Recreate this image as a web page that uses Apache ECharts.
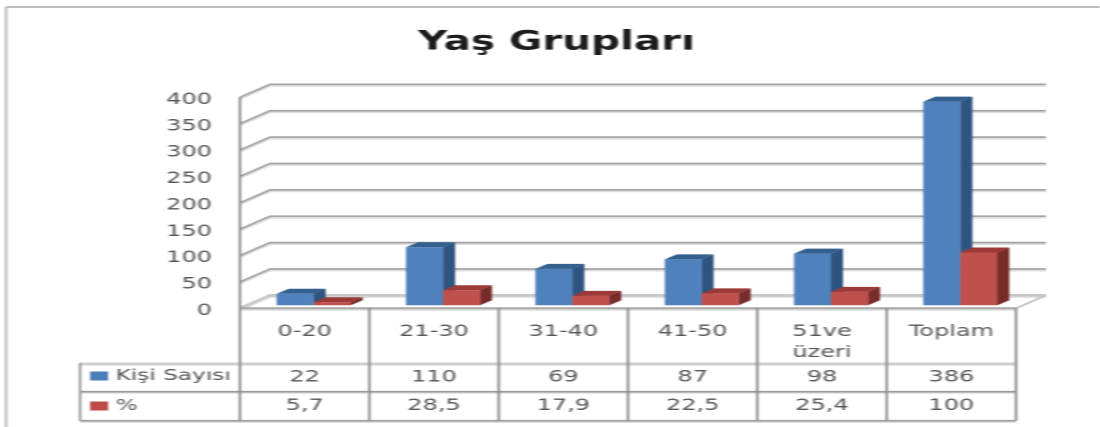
<!DOCTYPE html>
<html><head><meta charset="utf-8">
<style>
html,body{margin:0;padding:0;background:#fff;overflow:hidden}
#c{width:734px;height:427px;transform-origin:0 0;transform:scaleX(1.49864);filter:blur(0.65px)}
</style>
<script src="https://cdn.jsdelivr.net/npm/echarts@6/dist/echarts.min.js"></script>
</head><body><div id="c"></div>
<script>
const categories = ['0-20','21-30','31-40','41-50','51ve\nüzeri','Toplam'];
const kisiSayisi = [22,110,69,87,98,386];
const yuzde = [5.7,28.5,17.9,22.5,25.4,100];
const yTicks = [0,50,100,150,200,250,300,350,400];
const seriesNames = ['Kişi Sayısı','%'];

const SX = 1100/734;
const px = v => v/SX;
const font = 'DejaVu Sans';
const wallDX = px(30), wallDY = -13, wallRight = px(30);
const barW = px(37), barDX = px(12), barDY = -5, baseY = -3;
const startOff = [px(-28), px(9)];

function barItem(seriesIdx, front, top, side){
  return function(params, api){
    const p = api.coord([api.value(0), api.value(1)]);
    const b = api.coord([api.value(0), 0]);
    const xl = p[0] + startOff[seriesIdx], xr = xl + barW;
    const yt = p[1] + baseY, yb = b[1] + baseY;
    return {type:'group', children:[
      {type:'polygon', shape:{points:[[xr,yt],[xr+barDX,yt+barDY],[xr+barDX,yb+barDY],[xr,yb]]}, style:{fill:side}},
      {type:'polygon', shape:{points:[[xl,yt],[xl+barDX,yt+barDY],[xr+barDX,yt+barDY],[xr,yt]]}, style:{fill:top}},
      {type:'rect', shape:{x:xl,y:yt,width:barW,height:yb-yt}, style:{fill:front}}
    ]};
  };
}
function gridItem(params, api){
  const cs = params.coordSys;
  const y = api.coord([0, api.value(1)])[1];
  const x0 = cs.x, x1 = cs.x + cs.width + wallRight;
  const pts = [[x0,y],[x0+wallDX,y+wallDY],[x1,y+wallDY]];
  const zero = api.value(1) === 0;
  const kids = [{type:'polyline', shape:{points:pts.map(q=>[q[0],q[1]+1.5])}, style:{fill:null,stroke:'#dcdcdc',lineWidth:2}}];
  kids.push({type:'polyline', shape:{points:pts}, style:{fill:null,stroke:zero?'#c8c8c8':'#a2a2a2',lineWidth:zero?2.5:1.6}});
  if (zero) kids.push({type:'line', shape:{x1:x1-wallDX,y1:y,x2:x1,y2:y+wallDY}, style:{stroke:'#c0c0c0',lineWidth:1.6}});
  return {type:'group', children:kids};
}
const rowY = [363, 391.7, 420.7];
const tableLeft = px(80);
function tableItem(params, api){
  const cs = params.coordSys;
  const band = cs.width / categories.length;
  const kids = [];
  const hl = (x1,x2,y,c,w)=>kids.push({type:'line',shape:{x1,y1:y,x2,y2:y},style:{stroke:c,lineWidth:w}});
  const vl = (x,y1,y2,c,w)=>kids.push({type:'line',shape:{x1:x,y1,x2:x,y2},style:{stroke:c,lineWidth:w}});
  const fy = cs.y + cs.height;
  hl(cs.x, cs.x+cs.width, fy+1.5, '#e0e0e0', 2);
  hl(cs.x, cs.x+cs.width, fy, '#a8a8a8', 2);
  hl(tableLeft, cs.x+cs.width, rowY[0]+1, '#cfcfcf', 3);
  hl(tableLeft, cs.x+cs.width, rowY[1]+1, '#dddddd', 2);
  hl(tableLeft, cs.x+cs.width, rowY[1], '#9a9a9a', 1.6);
  hl(tableLeft, cs.x+cs.width, rowY[2]+1, '#d4d4d4', 2);
  hl(tableLeft, cs.x+cs.width, rowY[2], '#a0a0a0', 1.6);
  for (let i=0;i<=categories.length;i++) vl(cs.x+band*i, i===0?cs.y:fy, rowY[2], '#8e8e8e', 1.7);
  vl(tableLeft, rowY[0], rowY[2], '#9a9a9a', 1.7);
  return {type:'group', children:kids};
}
function cellItem(y){
  return function(params, api){
    const x = api.coord([api.value(0),0])[0];
    const v = api.value(1);
    return {type:'text', x, y, style:{text:String(v).replace('.',','), font:'16px "'+font+'"', fill:'#555', textAlign:'center', textVerticalAlign:'middle'}};
  };
}
const idx = a => a.map((v,i)=>[i,v]);

const chart = echarts.init(document.getElementById('c'), null, {renderer:'canvas', width:734, height:427, devicePixelRatio:2});
chart.setOption({
  animation:false,
  backgroundColor:'#fff',
  title:{text:'Yaş Grupları', left:px(549), top:24, textAlign:'center',
    textStyle:{fontFamily:font,fontSize:27,fontWeight:'bold',color:'#1c1c1c'}},
  legend:{orient:'vertical', left:px(90), top:368, padding:0, itemWidth:px(18), itemHeight:9, itemGap:14,
    data:seriesNames.map(n=>({name:n,icon:'rect'})), selectedMode:false,
    textStyle:{fontFamily:font,fontSize:15.5,color:'#555'}},
  grid:{left:px(240), right:734-px(1016), top:97.3, height:211},
  xAxis:{type:'category', data:categories, axisLine:{show:false}, axisTick:{show:false}, splitLine:{show:false},
    axisLabel:{fontFamily:font,fontSize:16,color:'#555',margin:13,lineHeight:21,verticalAlign:'top',interval:0}},
  yAxis:{type:'value', min:0, max:400, interval:50, axisLine:{show:false}, axisTick:{show:false}, splitLine:{show:false},
    axisLabel:{margin:px(28),formatter:'{a|{value}}',
      rich:{a:{fontFamily:font,fontSize:16,color:'#555',padding:[5,0,0,0]}}}},
  graphic:[
    {type:'line',silent:true,shape:{x1:px(6),y1:7,x2:734,y2:7},style:{stroke:'#a8a8a8',lineWidth:1.5}},
    {type:'line',silent:true,shape:{x1:px(6),y1:7,x2:px(6),y2:427},style:{stroke:'#b4b4b4',lineWidth:1.5}}
  ],
  series:[
    {type:'custom',name:'grid',silent:true,z:1,data:yTicks.map(t=>[0,t]),renderItem:gridItem,encode:{x:0,y:1}},
    {type:'custom',name:'table',silent:true,z:1,data:[[0,0]],renderItem:tableItem,encode:{x:0,y:1}},
    {type:'custom',name:seriesNames[0],z:3,itemStyle:{color:'#4A7EBB'},data:idx(kisiSayisi),renderItem:barItem(0,'#4F81BD','#34608F','#2E5480'),encode:{x:0,y:1}},
    {type:'custom',name:seriesNames[1],z:4,itemStyle:{color:'#BE4B48'},data:idx(yuzde),renderItem:barItem(1,'#C0504D','#9C3A37','#772C2A'),encode:{x:0,y:1}},
    {type:'custom',name:'cells1',silent:true,z:5,data:idx(kisiSayisi),renderItem:cellItem(377.5),encode:{x:0,y:1}},
    {type:'custom',name:'cells2',silent:true,z:5,data:idx(yuzde),renderItem:cellItem(406),encode:{x:0,y:1}}
  ]
});
</script></body></html>
